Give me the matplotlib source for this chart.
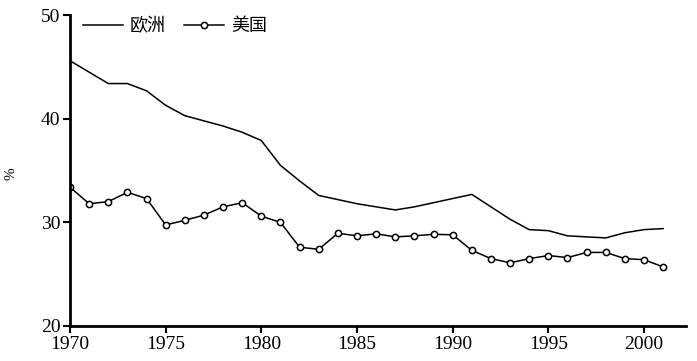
import matplotlib.pyplot as plt
from matplotlib.ticker import MultipleLocator

plt.rcParams['font.family'] = ['Liberation Serif', 'Noto Sans CJK SC']

years = list(range(1970, 2002))
europe = [45.6, 44.5, 43.4, 43.4, 42.7, 41.3, 40.3, 39.8, 39.3, 38.7,
          37.9, 35.5, 34.0, 32.6, 32.2, 31.8, 31.5, 31.2, 31.5, 31.9,
          32.3, 32.7, 31.5, 30.3, 29.3, 29.2, 28.7, 28.6, 28.5, 29.0,
          29.3, 29.4]
usa = [33.4, 31.8, 32.0, 32.9, 32.3, 29.75, 30.2, 30.7, 31.5, 31.9,
       30.6, 30.0, 27.6, 27.4, 28.95, 28.7, 28.9, 28.6, 28.7, 28.85,
       28.8, 27.3, 26.5, 26.1, 26.5, 26.8, 26.6, 27.1, 27.1, 26.5,
       26.4, 25.7]

fig = plt.figure(figsize=(6.97, 3.61), dpi=100)
ax = fig.add_axes([0.1004, 0.097, 0.884, 0.861])

ax.plot(years, europe, color='black', lw=1.1, label='欧洲')
ax.plot(years, usa, color='black', lw=1.1, marker='o', ms=4.5,
        markerfacecolor='white', markeredgewidth=1.1, label='美国')

ax.set_xlim(1970, 2002.2)
ax.set_ylim(20, 50)
ax.xaxis.set_major_locator(MultipleLocator(5))
ax.yaxis.set_major_locator(MultipleLocator(10))

for side in ['top', 'right']:
    ax.spines[side].set_visible(False)
for side in ['left', 'bottom']:
    ax.spines[side].set_linewidth(2)
ax.tick_params(direction='out', width=1.5, length=5, labelsize=14, pad=2)

ax.set_ylabel('%', fontsize=11)
ax.yaxis.set_label_coords(-0.085, 0.49)

leg = ax.legend(loc='upper left', ncol=2, frameon=False, bbox_to_anchor=(-0.005, 1.045),
                prop={'family': ['Noto Sans CJK SC'], 'size': 13},
                handlelength=2.2, columnspacing=1.0, handletextpad=0.4)

fig.savefig('out.png', dpi=100)
